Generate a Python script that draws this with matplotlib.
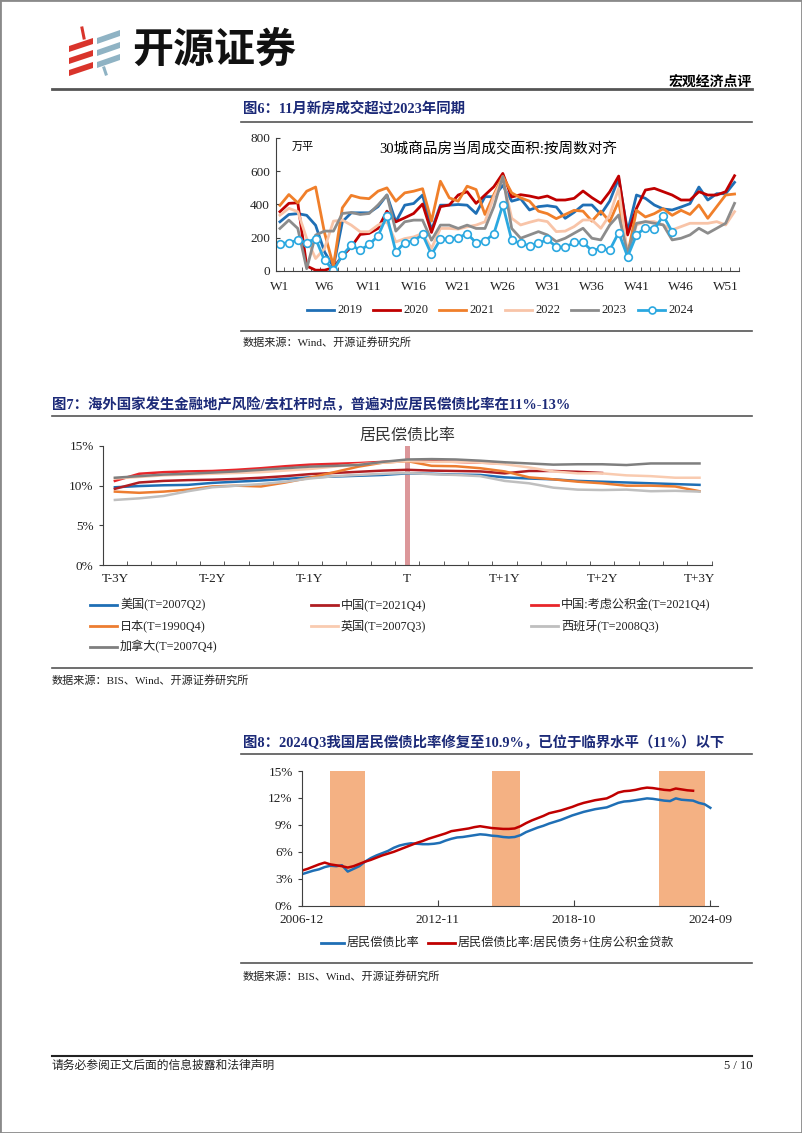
import numpy as np
import matplotlib
matplotlib.use("Agg")
import matplotlib.pyplot as plt
from matplotlib.lines import Line2D
from matplotlib.patches import Rectangle, Polygon
from matplotlib.ticker import FuncFormatter

plt.rcParams['font.family'] = ['Liberation Serif', 'Noto Sans CJK SC', 'DejaVu Sans']
plt.rcParams['axes.unicode_minus'] = False

W, H = 802, 1133
NAVY = '#1c2a78'
AXC = '#404040'

# ---------------- chart 6: weekly sales, 30 cities ----------------
weeks = np.arange(1, 53)
week_labels = ['W1', 'W6', 'W11', 'W16', 'W21', 'W26', 'W31', 'W36', 'W41', 'W46', 'W51']
s2019 = [296, 340, 345, 335, 275, 115, 25, 296, 350, 350, 350, 387, 457, 296, 396, 406, 457, 245,
         396, 396, 400, 396, 346, 447, 447, 515, 420, 435, 367, 387, 393, 385, 317, 353, 397, 397,
         341, 421, 557, 237, 457, 437, 397, 373, 367, 385, 405, 505, 427, 465, 465, 533]
s2020 = [357, 407, 410, 30, 5, 5, 20, 90, 145, 220, 226, 256, 360, 296, 320, 346, 403, 232,
         387, 397, 457, 477, 407, 457, 507, 587, 445, 459, 451, 439, 451, 427, 427, 437, 481, 441,
         407, 477, 571, 217, 377, 487, 497, 477, 457, 427, 427, 477, 457, 457, 477, 573]
s2021 = [395, 460, 410, 480, 505, 230, 30, 380, 455, 440, 435, 480, 500, 420, 470, 480, 495, 300,
         540, 440, 420, 510, 490, 340, 460, 570, 470, 440, 420, 360, 345, 315, 340, 365, 360, 300,
         360, 297, 420, 96, 365, 325, 345, 375, 335, 365, 340, 397, 317, 387, 457, 463]
s2022 = [336, 377, 357, 195, 75, 135, 300, 306, 276, 236, 236, 276, 296, 175, 195, 205, 226, 135,
         256, 256, 252, 266, 276, 296, 447, 558, 317, 277, 293, 307, 297, 237, 240, 267, 307, 307,
         257, 337, 497, 96, 277, 297, 297, 277, 247, 267, 287, 287, 287, 297, 277, 357]
s2023 = [256, 306, 256, 14, 216, 240, 240, 346, 352, 340, 346, 397, 457, 240, 296, 306, 306, 185,
         276, 276, 256, 276, 256, 256, 387, 568, 256, 197, 217, 237, 217, 177, 197, 227, 257, 197,
         187, 277, 337, 106, 287, 297, 287, 277, 187, 197, 217, 257, 227, 257, 287, 407]
s2024 = [165, 170, 185, 171, 195, 64, 5, 95, 155, 125, 160, 210, 332, 115, 171, 180, 220, 100,
         190, 195, 200, 225, 170, 180, 225, 397, 186, 166, 152, 166, 190, 146, 142, 172, 172, 122,
         136, 126, 231, 86, 217, 261, 251, 333, 237]
years6 = ['2019', '2020', '2021', '2022', '2023', '2024']
colors6 = ['#1f6fb5', '#c00000', '#f07f2a', '#f8c4a8', '#8c8c8c', '#2ba8e0']

# ---------------- chart 7: debt service ratio around crisis ----------------
quarters = np.arange(-12, 13)
q_labels = ['T-3Y', 'T-2Y', 'T-1Y', 'T', 'T+1Y', 'T+2Y', 'T+3Y']
dsr_us = [9.8, 9.95, 10.05, 10.1, 10.35, 10.5, 10.65, 10.85, 11.05, 11.15, 11.25, 11.35, 11.55,
          11.5, 11.4, 11.35, 11.05, 10.9, 10.8, 10.6, 10.5, 10.4, 10.3, 10.2, 10.1]
dsr_cn = [9.6, 10.4, 10.6, 10.7, 10.75, 10.85, 11.0, 11.2, 11.45, 11.6, 11.75, 11.9, 12.0,
          11.9, 11.85, 11.8, 11.55, 11.85, 11.85, 11.75, 11.6]
dsr_cn_hpf = [10.6, 11.5, 11.7, 11.8, 11.85, 12.0, 12.2, 12.45, 12.65, 12.75, 12.85, 13.0, 13.15,
              13.1, 13.0, 12.9, 12.8]
dsr_jp = [9.25, 9.1, 9.25, 9.5, 9.9, 10.0, 9.9, 10.4, 11.0, 11.7, 12.4, 12.9, 13.1,
          12.5, 12.45, 12.2, 11.8, 11.05, 10.8, 10.5, 10.3, 10.0, 10.0, 9.9, 9.3]
dsr_uk = [10.9, 11.1, 11.3, 11.4, 11.5, 11.6, 11.7, 11.9, 12.1, 12.4, 12.7, 12.9, 13.1,
          13.0, 13.0, 12.9, 12.7, 12.3, 11.8, 11.55, 11.55, 11.3, 11.2, 11.0, 11.0]
dsr_es = [8.2, 8.4, 8.7, 9.3, 9.8, 10.0, 10.2, 10.5, 10.9, 11.2, 11.35, 11.5, 11.6,
          11.45, 11.35, 11.2, 10.6, 10.3, 9.75, 9.5, 9.45, 9.5, 9.3, 9.35, 9.25]
dsr_ca = [11.0, 11.2, 11.4, 11.5, 11.65, 11.8, 12.0, 12.2, 12.4, 12.5, 12.6, 13.0, 13.3,
          13.35, 13.3, 13.15, 12.95, 12.8, 12.65, 12.7, 12.7, 12.6, 12.8, 12.8, 12.8]
names7 = ['美国(T=2007Q2)', '中国(T=2021Q4)', '中国:考虑公积金(T=2021Q4)', '日本(T=1990Q4)',
          '英国(T=2007Q3)', '西班牙(T=2008Q3)', '加拿大(T=2007Q4)']
colors7 = ['#1f6fb5', '#b01e23', '#e8262a', '#ed7d31', '#f9cbb0', '#bfbfbf', '#7f7f7f']

# ---------------- chart 8: China DSR, quarterly 2006-12 .. 2024-09 ----------------
cn_dsr = [3.5, 3.7, 3.9, 4.05, 4.3, 4.45, 4.4, 4.5, 3.8, 4.1, 4.4, 4.9, 5.3, 5.6, 5.85, 6.1,
          6.45, 6.7, 6.85, 6.95, 6.9, 6.85, 6.85, 6.9, 7.0, 7.25, 7.45, 7.6, 7.65, 7.75, 7.85,
          7.95, 7.9, 7.8, 7.75, 7.65, 7.6, 7.65, 7.85, 8.2, 8.45, 8.7, 8.9, 9.15, 9.35, 9.55,
          9.8, 10.05, 10.25, 10.45, 10.6, 10.75, 10.85, 10.95, 11.2, 11.45, 11.6, 11.65, 11.75,
          11.85, 11.95, 11.9, 11.8, 11.7, 11.65, 11.95, 11.8, 11.75, 11.7, 11.45, 11.3, 10.9]
cn_dsr_hpf = [3.9, 4.1, 4.35, 4.6, 4.8, 4.6, 4.5, 4.4, 4.25, 4.4, 4.65, 4.9, 5.1, 5.35, 5.6,
              5.8, 6.0, 6.25, 6.5, 6.75, 7.0, 7.2, 7.45, 7.65, 7.85, 8.05, 8.3, 8.4, 8.5, 8.6,
              8.75, 8.85, 8.75, 8.65, 8.6, 8.55, 8.55, 8.6, 8.85, 9.2, 9.5, 9.75, 10.0, 10.3,
              10.45, 10.6, 10.8, 11.0, 11.25, 11.45, 11.6, 11.75, 11.85, 11.95, 12.25, 12.6,
              12.75, 12.8, 12.9, 13.05, 13.15, 13.1, 13.0, 12.9, 12.85, 13.05, 12.95, 12.85, 12.8]
# months after 2006-12 for shaded periods
shade_spans = [(15, 33), (99, 114), (186, 210)]
date_ticks = [0, 71, 142, 213]
date_labels = ['2006-12', '2012-11', '2018-10', '2024-09']


def rect(l, t, r, b):
    return [l / W, 1 - b / H, (r - l) / W, (b - t) / H]


fig = plt.figure(figsize=(W / 100, H / 100), dpi=100)


def ftext(x, y, s, **kw):
    kw.setdefault('va', 'center')
    fig.text(x / W, 1 - y / H, s, **kw)


def hline(x0, x1, y, lw=1.0, color='#333333'):
    fig.add_artist(Line2D([x0 / W, x1 / W], [1 - y / H, 1 - y / H], lw=lw, color=color))


def legend_item(x, y, color, label, length=27, lw=2.0, marker=None, fs=8.5):
    fig.add_artist(Line2D([x / W, (x + length) / W], [1 - y / H] * 2, lw=lw, color=color))
    if marker:
        fig.add_artist(Line2D([(x + length / 2) / W], [1 - y / H], marker=marker, ms=5,
                              mfc='white', mec=color, mew=1.2, lw=0))
    ftext(x + length + 3, y, label, fontsize=fs, color='#222222')


def style_axes(ax):
    for sp in ['top', 'right']:
        ax.spines[sp].set_visible(False)
    for sp in ['left', 'bottom']:
        ax.spines[sp].set_color(AXC)
        ax.spines[sp].set_linewidth(0.8)
    ax.tick_params(colors='#222222', labelsize=9.5)
    ax.patch.set_alpha(0)


# page frame
fig.add_artist(Rectangle((0, 0), 1, 1, transform=fig.transFigure, fill=False,
                         ec='#8a8a8a', lw=2))

# logo
red_bars = [[(69, 46), (93, 38), (93, 44), (69, 52)],
            [(69, 58), (93, 50), (93, 56), (69, 64)],
            [(69, 70), (93, 62), (93, 68), (69, 76)]]
blue_bars = [[(97, 38), (120, 30), (120, 36), (97, 44)],
             [(97, 50), (120, 42), (120, 48), (97, 56)],
             [(97, 62), (120, 54), (120, 60), (97, 68)]]
for pts in red_bars:
    fig.add_artist(Polygon([(x / W, 1 - y / H) for x, y in pts], closed=True,
                           transform=fig.transFigure, fc='#d9342b', ec='none'))
for pts in blue_bars:
    fig.add_artist(Polygon([(x / W, 1 - y / H) for x, y in pts], closed=True,
                           transform=fig.transFigure, fc='#8fb3c4', ec='none'))
fig.add_artist(Line2D([82 / W, 84 / W], [1 - 28 / H, 1 - 38 / H], lw=2.2, color='#d9342b'))
fig.add_artist(Line2D([104 / W, 106 / W], [1 - 68 / H, 1 - 74 / H], lw=2.2, color='#8fb3c4'))
ftext(132, 50, '开源证券', fontsize=29.5, fontweight='bold', color='#111111',
      family=['Noto Sans CJK SC'])

ftext(752, 82, '宏观经济点评', fontsize=10, fontweight='bold', ha='right',
      family=['Noto Sans CJK SC'])
hline(52, 752, 89, lw=2.0, color='#555555')

# ---------------- chart 6 ----------------
ftext(243, 110, '图6：11月新房成交超过2023年同期', fontsize=10.4, fontweight='bold', color=NAVY)
hline(241, 752, 122, lw=1.2, color='#555555')

ax6 = fig.add_axes(rect(275.5, 138, 739, 271))
style_axes(ax6)
series6 = [s2019, s2020, s2021, s2022, s2023]
for vals, c in zip(series6, colors6[:5]):
    ax6.plot(weeks[:len(vals)], vals, color=c, lw=2.0, solid_joinstyle='round')
ax6.plot(weeks[:len(s2024)], s2024, color=colors6[5], lw=2.0, marker='o', ms=5.5,
         mfc='white', mec=colors6[5], mew=1.2)
ax6.set_xlim(0.5, 52.5)
ax6.set_ylim(0, 800)
ax6.set_yticks([0, 200, 400, 600, 800])
ax6.set_xticks(np.arange(1, 53, 5))
ax6.set_xticklabels(week_labels)
ax6.set_xticks(np.arange(0.5, 53, 1), minor=True)
ax6.tick_params(axis='x', which='major', length=0, pad=7)
ax6.tick_params(axis='x', which='minor', direction='in', length=3, color=AXC)
ax6.tick_params(axis='y', direction='in', length=3, color=AXC, pad=4)
ax6.text(0.035, 0.97, '万平', transform=ax6.transAxes, fontsize=8, va='top')
ax6.text(0.48, 0.97, '30城商品房当周成交面积:按周数对齐', transform=ax6.transAxes,
         fontsize=10.5, va='top', ha='center')

lx = [307, 373, 439, 505, 571, 638]
for i, (yr, c) in enumerate(zip(years6, colors6)):
    legend_item(lx[i], 310, c, yr, marker='o' if yr == '2024' else None, fs=9)
hline(241, 752, 331, lw=1.2, color='#555555')
ftext(243, 342, '数据来源：Wind、开源证券研究所', fontsize=8, color='#222222')

# ---------------- chart 7 ----------------
ftext(52, 405, '图7：海外国家发生金融地产风险/去杠杆时点，普遍对应居民偿债比率在11%-13%',
      fontsize=10.4, fontweight='bold', color=NAVY)
hline(52, 752, 416, lw=1.2, color='#555555')

ax7 = fig.add_axes(rect(102.7, 446, 711.7, 565))
style_axes(ax7)
ax7.axvspan(-0.1, 0.1, color='#d98c8f', alpha=0.9, lw=0)
series7 = [dsr_us, dsr_cn, dsr_cn_hpf, dsr_jp, dsr_uk, dsr_es, dsr_ca]
for vals, c in zip(series7, colors7):
    ax7.plot(quarters[:len(vals)], vals, color=c, lw=1.8, solid_joinstyle='round')
ax7.set_xlim(-12.5, 12.5)
ax7.set_ylim(0, 15)
ax7.set_yticks([0, 5, 10, 15])
ax7.yaxis.set_major_formatter(FuncFormatter(lambda v, p: f'{v:.0f}%'))
ax7.set_xticks(np.arange(-12, 13, 4))
ax7.set_xticklabels(q_labels)
ax7.set_xticks(np.arange(-11.5, 12.6, 1), minor=True)
ax7.tick_params(axis='x', which='major', length=0, pad=6)
ax7.tick_params(axis='x', which='minor', direction='in', length=3, color=AXC)
ax7.tick_params(axis='y', direction='out', length=3, color=AXC)
ax7.text(0.0, 1.02, '居民偿债比率', transform=ax7.get_xaxis_transform(), fontsize=11.5,
         ha='center', va='bottom', color='#333333')

col_x = [90, 311, 531]
row_y = [605, 626, 647]
for i, (nm, c) in enumerate(zip(names7, colors7)):
    legend_item(col_x[i % 3], row_y[i // 3], c, nm, fs=8.7)
hline(52, 752, 668, lw=1.2, color='#555555')
ftext(52, 680, '数据来源：BIS、Wind、开源证券研究所', fontsize=8, color='#222222')

# ---------------- chart 8 ----------------
ftext(243, 743, '图8：2024Q3我国居民偿债比率修复至10.9%，已位于临界水平（11%）以下',
      fontsize=10.4, fontweight='bold', color=NAVY)
hline(241, 752, 754, lw=1.2, color='#555555')

ax8 = fig.add_axes(rect(301.7, 771, 718, 905.7))
style_axes(ax8)
for a, b in shade_spans:
    ax8.axvspan(a, b, ymax=1, color='#f4b183', lw=0)
months = np.arange(len(cn_dsr)) * 3
ax8.plot(months, cn_dsr, color='#1f6fb5', lw=1.8)
ax8.plot(months[:len(cn_dsr_hpf)], cn_dsr_hpf, color='#c00000', lw=1.8)
ax8.set_xlim(0, 217)
ax8.set_ylim(0, 15)
ax8.set_yticks([0, 3, 6, 9, 12, 15])
ax8.yaxis.set_major_formatter(FuncFormatter(lambda v, p: f'{v:.0f}%'))
ax8.set_xticks(date_ticks)
ax8.set_xticklabels(date_labels)
ax8.tick_params(axis='x', direction='in', length=4, color=AXC, pad=6)
ax8.tick_params(axis='y', direction='out', length=3, color=AXC)

legend_item(321, 943, '#1f6fb5', '居民偿债比率', length=23, fs=8.7)
legend_item(428, 943, '#c00000', '居民偿债比率:居民债务+住房公积金贷款', length=27, fs=8.7)
hline(241, 752, 963, lw=1.2, color='#555555')
ftext(243, 976, '数据来源：BIS、Wind、开源证券研究所', fontsize=8, color='#222222')

# footer
hline(52, 752, 1056, lw=1.5, color='#222222')
ftext(52, 1066, '请务必参阅正文后面的信息披露和法律声明', fontsize=8.5, color='#222222')
ftext(752, 1066, '5 / 10', fontsize=9, ha='right', color='#222222')

fig.savefig('out.png', dpi=100)
